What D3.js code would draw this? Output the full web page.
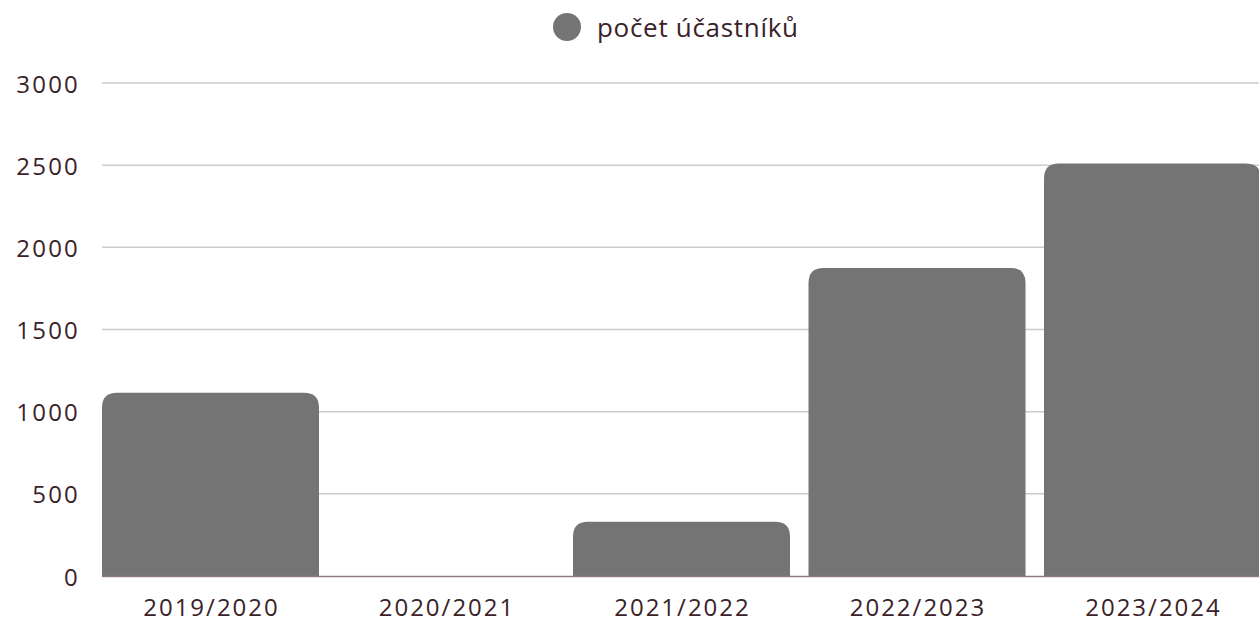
<!DOCTYPE html>
<html lang="cs">
  <head>
    <meta charset="utf-8" />
    <title>počet účastníků</title>
    <style>
      html, body { margin: 0; padding: 0; background: #fff; overflow: hidden; }
      svg { display: block; }
      text { font-family: 'Open Sans', Lato, sans-serif; fill: #3a2228; }
    </style>
  </head>
  <body>
    <div class="container"></div>
    <script src="https://cdn.jsdelivr.net/npm/d3@7"></script>
    <script>
      const seasons = ['2019/2020', '2020/2021', '2021/2022', '2022/2023', '2023/2024'];
      const participants = [1115, 0, 330, 1875, 2510];
      const yTicks = [0, 500, 1000, 1500, 2000, 2500, 3000];
      const seriesName = 'počet účastníků';

      const width = 1259;
      const height = 621;
      const plotLeft = 102;
      const plotTop = 83;
      const plotBottom = 576;

      const svg = d3
        .select('div.container')
        .append('svg')
        .attr('width', width)
        .attr('height', height);

      const x = d3
        .scaleBand()
        .domain(seasons)
        .range([plotLeft, plotLeft + 5 * 235.5 - 18.5])
        .paddingInner(18.5 / 235.5)
        .paddingOuter(0);

      const y = d3.scaleLinear().domain([0, 3000]).range([plotBottom, plotTop]);

      // gridlines
      svg
        .append('g')
        .selectAll('line')
        .data(yTicks.filter((d) => d > 0))
        .join('line')
        .attr('x1', plotLeft)
        .attr('x2', width)
        .attr('y1', (d) => y(d))
        .attr('y2', (d) => y(d))
        .attr('stroke', '#cfcbcc')
        .attr('stroke-width', 1.5);

      // y labels
      svg
        .append('g')
        .selectAll('text')
        .data(yTicks)
        .join('text')
        .attr('x', 80)
        .attr('y', (d) => y(d))
        .attr('text-anchor', 'end')
        .attr('dominant-baseline', 'central')
        .style('font-size', '24px')
        .style('letter-spacing', '2.2px')
        .text((d) => d);

      // bars with rounded top corners
      const r = 15;
      function barPath(d) {
        const x0 = x(d.season);
        const w = x.bandwidth();
        const y0 = y(d.value);
        const h = plotBottom - y0;
        if (h <= 0) return '';
        const rr = Math.min(r, h, w / 2);
        return `M${x0},${plotBottom}V${y0 + rr}Q${x0},${y0} ${x0 + rr},${y0}H${x0 + w - rr}Q${x0 + w},${y0} ${x0 + w},${y0 + rr}V${plotBottom}Z`;
      }
      svg
        .append('g')
        .selectAll('path')
        .data(seasons.map((s, i) => ({ season: s, value: participants[i] })))
        .join('path')
        .attr('d', barPath)
        .attr('fill', '#747474');

      // baseline
      svg
        .append('line')
        .attr('x1', plotLeft)
        .attr('x2', width)
        .attr('y1', plotBottom + 0.5)
        .attr('y2', plotBottom + 0.5)
        .attr('stroke', '#8e7d80')
        .attr('stroke-width', 1.5);

      // x labels
      svg
        .append('g')
        .selectAll('text')
        .data(seasons)
        .join('text')
        .attr('x', (d) => x(d) + x.bandwidth() / 2 + 1)
        .attr('y', 606)
        .attr('text-anchor', 'middle')
        .attr('dominant-baseline', 'central')
        .style('font-size', '24px')
        .style('letter-spacing', '2px')
        .text((d) => d);

      // legend
      svg
        .append('circle')
        .attr('cx', 567)
        .attr('cy', 27)
        .attr('r', 14)
        .attr('fill', '#747474');
      svg
        .append('text')
        .attr('x', 597)
        .attr('y', 27)
        .attr('dominant-baseline', 'central')
        .style('font-size', '26px')
        .style('letter-spacing', '0.7px')
        .text(seriesName);
    </script>
  </body>
</html>
